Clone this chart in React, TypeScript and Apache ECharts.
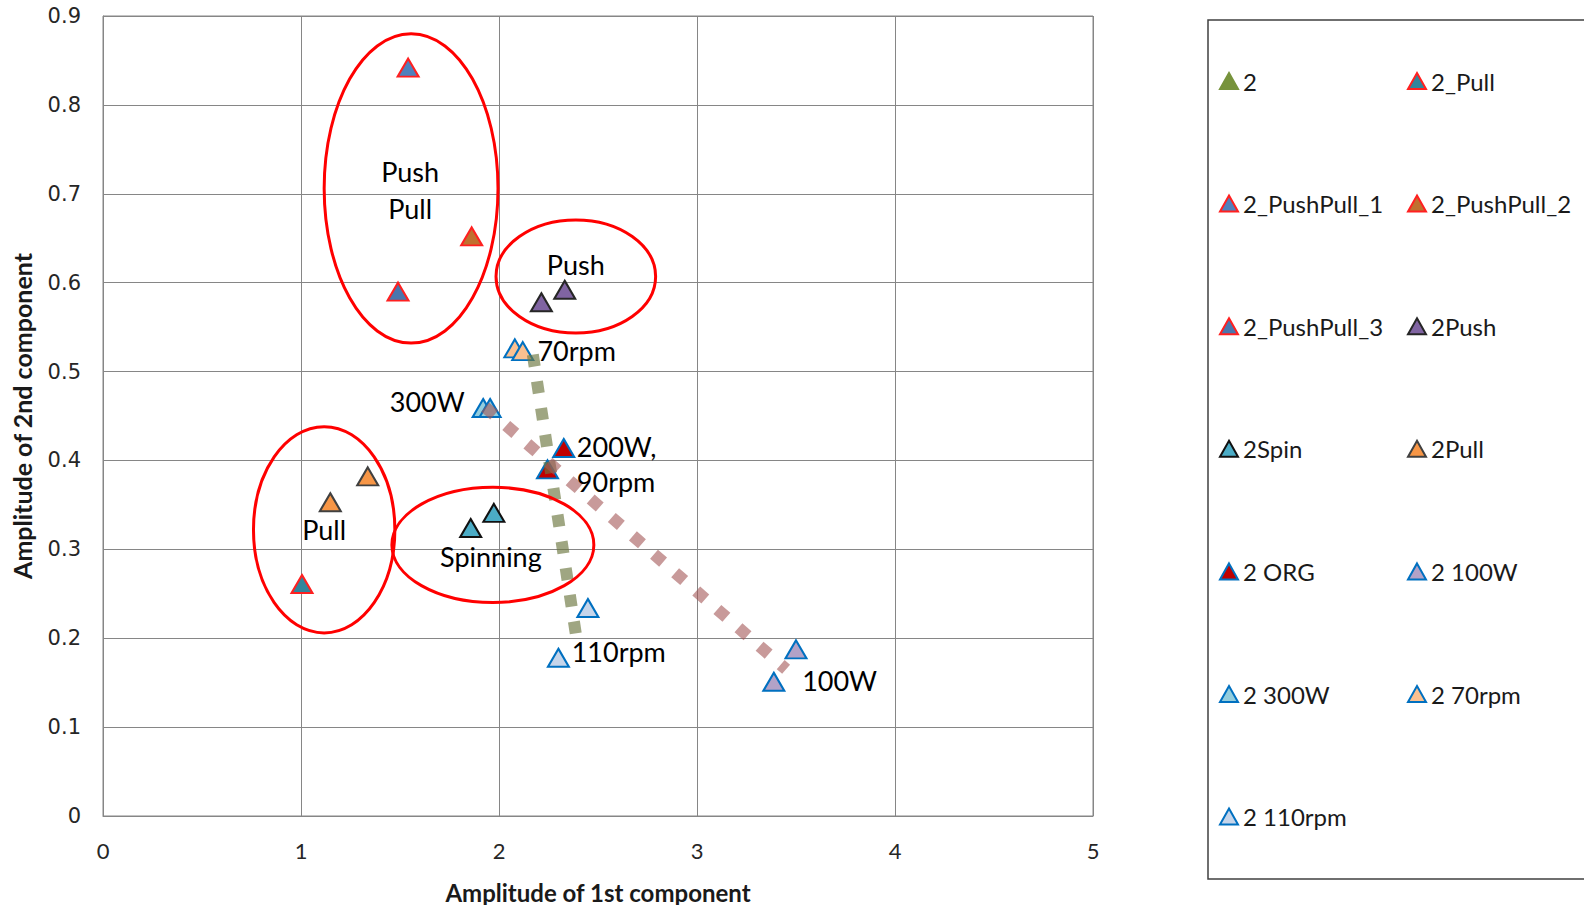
import React, { useEffect, useRef } from "react";
import * as echarts from "echarts";

// ---- data (x = amplitude of 1st component, y = amplitude of 2nd component) ----
const s2: number[][] = [];
const s2Pull_: number[][] = [[1.005, 0.261]];
const s2PushPull1: number[][] = [[1.541, 0.842]];
const s2PushPull2: number[][] = [[1.862, 0.652]];
const s2PushPull3: number[][] = [[1.49, 0.59]];
const s2Push: number[][] = [[2.214, 0.578], [2.332, 0.592]];
const s2Spin: number[][] = [[1.857, 0.324], [1.974, 0.341]];
const s2PullB: number[][] = [[1.148, 0.353], [1.337, 0.382]];
const s2ORG: number[][] = [[2.327, 0.414], [2.245, 0.39]];
const s2_100W: number[][] = [[3.5, 0.1875], [3.388, 0.151]];
const s2_300W: number[][] = [[1.92, 0.459], [1.955, 0.459]];
const s2_70rpm: number[][] = [[2.08, 0.526], [2.12, 0.523]];
const s2_110rpm: number[][] = [[2.3, 0.178], [2.449, 0.234]];

const rpmTrend: number[][] = [[2.171, 0.519], [2.39, 0.202]];
const wattTrend: number[][] = [[1.93, 0.46], [3.45, 0.165]];

const legendCol1 = ["2", "2_PushPull_1", "2_PushPull_3", "2Spin", "2 ORG", "2 300W", "2 110rpm"];
const legendCol2 = ["2_Pull", "2_PushPull_2", "2Push", "2Pull", "2 100W", "2 70rpm"];

const xTicks = { min: 0, max: 5, interval: 1 };
const yTicks = { min: 0, max: 0.9, interval: 0.1 };

// annotations in data coordinates
const ellipses = [
  { cx: 1.556, cy: 0.706, rx: 0.439, ry: 0.174 },
  { cx: 2.388, cy: 0.607, rx: 0.403, ry: 0.0636 },
  { cx: 1.117, cy: 0.322, rx: 0.357, ry: 0.116 },
  { cx: 1.969, cy: 0.305, rx: 0.51, ry: 0.0648 },
];
const notes: { text: string; x: number; y: number; align: string }[] = [
  { text: "Push", x: 1.551, y: 0.725, align: "center" },
  { text: "Pull", x: 1.551, y: 0.684, align: "center" },
  { text: "Push", x: 2.388, y: 0.62, align: "center" },
  { text: "70rpm", x: 2.194, y: 0.524, align: "left" },
  { text: "300W", x: 1.827, y: 0.466, align: "right" },
  { text: "200W,", x: 2.393, y: 0.416, align: "left" },
  { text: "90rpm", x: 2.393, y: 0.376, align: "left" },
  { text: "Pull", x: 1.117, y: 0.322, align: "center" },
  { text: "Spinning", x: 1.959, y: 0.292, align: "center" },
  { text: "110rpm", x: 2.367, y: 0.185, align: "left" },
  { text: "100W", x: 3.531, y: 0.153, align: "left" },
];

const FONT = "Lato, 'Open Sans', sans-serif";

function tri(name: string, data: number[][], fill: string, border: string) {
  return {
    type: "scatter",
    name,
    data,
    symbol: "triangle",
    symbolSize: [21, 18],
    itemStyle: { color: fill, borderColor: border, borderWidth: 2, opacity: 1 },
    z: 3,
  };
}

export default function App() {
  const ref = useRef<HTMLDivElement>(null);
  useEffect(() => {
    if (!ref.current) return;
    document.body.style.margin = "0";
    document.body.style.overflow = "hidden";
    document.documentElement.style.overflow = "hidden";
    const chart = echarts.init(ref.current, null, { renderer: "svg" });
    const legendBase = {
      orient: "vertical",
      top: 64,
      itemWidth: 18,
      itemHeight: 16,
      itemGap: 98.6,
      icon: "triangle",
      selectedMode: false,
      textStyle: { fontFamily: FONT, fontSize: 24, color: "#1a1a1a" },
    };
    const RED = "#ff2020";
    const BLUE = "#0070c0";
    chart.setOption({
      animation: false,
      backgroundColor: "#ffffff",
      grid: {
        left: 103,
        top: 16,
        width: 990,
        height: 800,
        containLabel: false,
        outerBoundsMode: "none",
        show: true,
        borderColor: "#868686",
        borderWidth: 1,
      },
      xAxis: {
        type: "value",
        ...xTicks,
        name: "Amplitude of 1st component",
        nameLocation: "middle",
        nameGap: 64,
        nameTextStyle: { fontFamily: FONT, fontWeight: "bold", fontSize: 24, color: "#1a1a1a" },
        axisLine: { show: true, lineStyle: { color: "#868686", width: 1 } },
        axisTick: { show: false },
        axisLabel: { fontFamily: FONT, fontSize: 22, color: "#262626", margin: 23 },
        splitLine: { show: true, lineStyle: { color: "#868686", width: 1 } },
      },
      yAxis: {
        type: "value",
        ...yTicks,
        name: "Amplitude of 2nd component",
        nameLocation: "middle",
        nameGap: 69,
        nameTextStyle: { fontFamily: FONT, fontWeight: "bold", fontSize: 25, color: "#1a1a1a" },
        axisLine: { show: true, lineStyle: { color: "#868686", width: 1 } },
        axisTick: { show: false },
        axisLabel: {
          fontFamily: "'DejaVu Sans', Verdana, sans-serif",
          fontSize: 21,
          color: "#262626",
          margin: 22,
          formatter: (v: number) => (Math.round(v * 10) / 10).toString(),
        },
        splitLine: { show: true, lineStyle: { color: "#868686", width: 1 } },
      },
      legend: [
        { ...legendBase, left: 1214, data: legendCol1 },
        { ...legendBase, left: 1402, data: legendCol2 },
      ],
      series: [
        tri("2", s2, "#77933c", "#77933c"),
        tri("2_Pull", s2Pull_, "#31859c", RED),
        tri("2_PushPull_1", s2PushPull1, "#4f81bd", RED),
        tri("2_PushPull_2", s2PushPull2, "#c0702f", RED),
        tri("2_PushPull_3", s2PushPull3, "#4a76ad", RED),
        tri("2Push", s2Push, "#8064a2", "#262626"),
        tri("2Spin", s2Spin, "#4bacc6", "#111111"),
        tri("2Pull", s2PullB, "#f79646", "#404040"),
        tri("2 ORG", s2ORG, "#c00000", BLUE),
        tri("2 100W", s2_100W, "#b3a2c7", BLUE),
        tri("2 300W", s2_300W, "#93cddd", BLUE),
        tri("2 70rpm", s2_70rpm, "#fac090", BLUE),
        tri("2 110rpm", s2_110rpm, "#c6d5ea", BLUE),
        {
          type: "line",
          name: "rpmTrend",
          data: rpmTrend,
          symbol: "none",
          z: 5,
          lineStyle: { color: "#6b763f", opacity: 0.65, width: 12, type: [12, 15], cap: "butt" },
        },
        {
          type: "line",
          name: "wattTrend",
          data: wattTrend,
          symbol: "none",
          z: 5,
          lineStyle: { color: "#a35757", opacity: 0.6, width: 12, type: [12, 16], cap: "butt" },
        },
      ],
    });

    const toPx = (x: number, y: number) =>
      chart.convertToPixel({ gridIndex: 0 }, [x, y]) as number[];
    const graphic: any[] = [];
    // legend frame
    graphic.push({
      type: "rect",
      shape: { x: 1208, y: 20, width: 420, height: 859 },
      style: { fill: "none", stroke: "#404040", lineWidth: 1.5 },
      z: 1,
    });
    ellipses.forEach((e) => {
      const c = toPx(e.cx, e.cy);
      const r = toPx(e.cx + e.rx, e.cy + e.ry);
      graphic.push({
        type: "ellipse",
        shape: { cx: c[0], cy: c[1], rx: Math.abs(r[0] - c[0]), ry: Math.abs(c[1] - r[1]) },
        style: { fill: "none", stroke: "#ff0000", lineWidth: 3 },
        z: 10,
      });
    });
    notes.forEach((n) => {
      const p = toPx(n.x, n.y);
      graphic.push({
        type: "text",
        x: p[0],
        y: p[1],
        z: 10,
        style: {
          text: n.text,
          fill: "#000000",
          font: `27px ${FONT}`,
          textAlign: n.align,
          align: n.align,
          textVerticalAlign: "middle",
          verticalAlign: "middle",
        },
      });
    });
    chart.setOption({ graphic });
    return () => chart.dispose();
  }, []);
  return (
    <div
      ref={ref}
      style={{ position: "fixed", left: 0, top: 0, width: 1584, height: 905, background: "#fff" }}
    />
  );
}
